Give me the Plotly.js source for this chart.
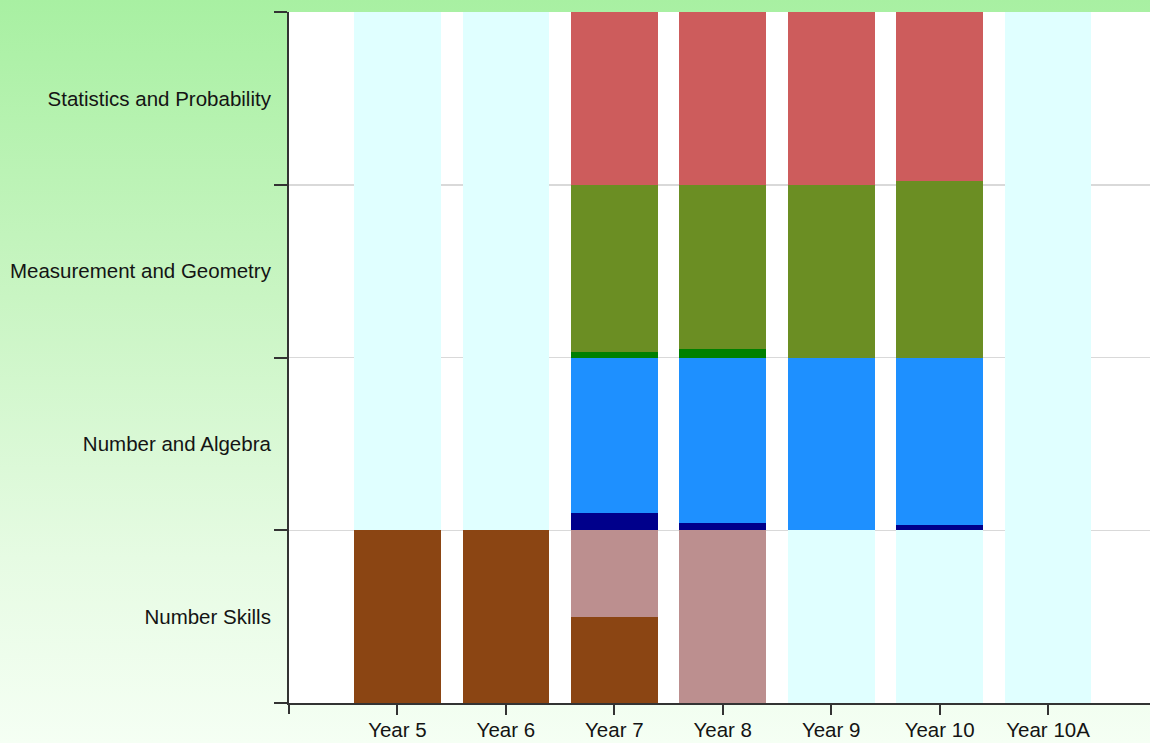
<!DOCTYPE html>
<html>
<head>
<meta charset="utf-8">
<script src="https://cdn.plot.ly/plotly-3.0.1.min.js"></script>
<style>
html,body{margin:0;padding:0;}
body{width:1150px;height:743px;background:linear-gradient(to bottom,#a8f0a2 0%,#c9f5c3 40%,#e6fbe3 75%,#f5fff4 100%);}
#chart{width:1150px;height:743px;}
</style>
</head>
<body>
<div id="chart"></div>
<script>
const years = ['Year 5','Year 6','Year 7','Year 8','Year 9','Year 10','Year 10A'];
const strands = ['Number Skills','Number and Algebra','Measurement and Geometry','Statistics and Probability'];
const strandPos = [0.5,1.5,2.5,3.5];

// stacked segments, bottom to top (in strand-band units)
const nsCore      = [1,1,0.5,0,0,0,0];
const nsExt       = [0,0,0.5,1,0,0,0];
const nsEmpty     = [0,0,0,0,1,1,0];
const naExt       = [0,0,0.1,0.04,0,0.03,0];
const naCore      = [0,0,0.9,0.96,1,0.97,0];
const mgExt       = [0,0,0.03,0.05,0,0,0];
const mgCore      = [0,0,0.97,0.95,1,1.02,0];
const spCore      = [0,0,1,1,1,0.98,0];
const restEmpty   = [3,3,0,0,0,0,4];

const series = [
  {y: nsCore,    color:'#8B4513'},
  {y: nsExt,     color:'#BC8F8F'},
  {y: nsEmpty,   color:'#E0FFFF'},
  {y: naExt,     color:'#00008B'},
  {y: naCore,    color:'#1E90FF'},
  {y: mgExt,     color:'#008000'},
  {y: mgCore,    color:'#6B8E23'},
  {y: spCore,    color:'#CD5C5C'},
  {y: restEmpty, color:'#E0FFFF'}
];

const traces = series.map(s => ({
  type:'bar', x: years, y: s.y,
  marker:{color:s.color, line:{width:0}},
  hoverinfo:'skip', showlegend:false
}));

const font = {family:'"Liberation Sans Narrow", "Liberation Sans", Arial, sans-serif', size:20.5, color:'#141414'};
const W = 1150-289, H = 703-12;

const layout = {
  width:1150, height:743,
  margin:{l:289, r:0, t:12, b:40, pad:0},
  paper_bgcolor:'rgba(0,0,0,0)',
  plot_bgcolor:'#ffffff',
  barmode:'stack',
  bargap:0.2,
  font: font,
  xaxis:{
    type:'category', categoryorder:'array', categoryarray: years,
    range:[-1, 6.94], fixedrange:true,
    showgrid:false, zeroline:false,
    showline:true, linecolor:'#333', linewidth:2,
    ticks:'outside', ticklen:10, tickwidth:2, tickcolor:'#333',
    ticklabelstandoff:-3,
    tickfont: font
  },
  yaxis:{
    range:[0,4], fixedrange:true,
    tickmode:'array', tickvals: strandPos, ticktext: strands,
    ticks:'outside', ticklen:12, tickcolor:'rgba(0,0,0,0)',
    showgrid:false, zeroline:false,
    showline:true, linecolor:'#333', linewidth:2,
    tickfont: font,
    minor:{tickmode:'linear', tick0:0, dtick:1, ticks:'outside', ticklen:13, tickwidth:2, tickcolor:'#333', showgrid:true, gridcolor:'#d9d9d9', gridwidth:1.5}
  },
  shapes:[
    {type:'line', xref:'paper', yref:'paper', x0:-13/W, x1:0, y0:0, y1:0, line:{color:'#333', width:2}},
    {type:'line', xref:'paper', yref:'paper', x0:0, x1:0, y0:-11/H, y1:0, line:{color:'#333', width:2}}
  ]
};

Plotly.newPlot('chart', traces, layout, {displayModeBar:false, staticPlot:true});
</script>
</body>
</html>
